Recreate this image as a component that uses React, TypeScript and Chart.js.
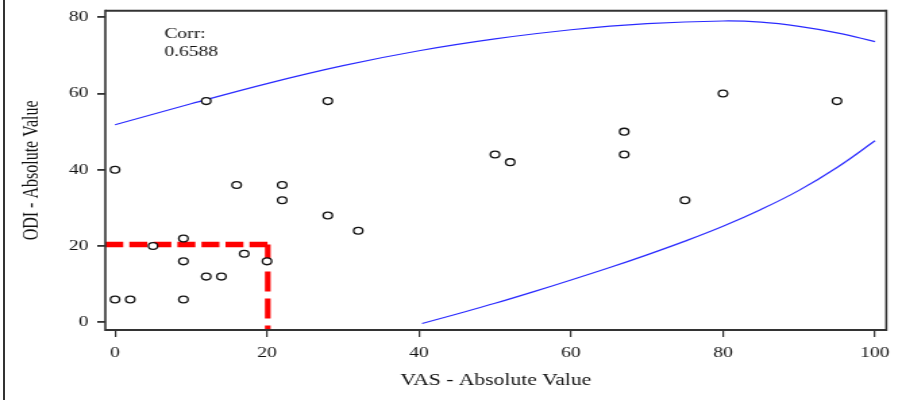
import React, { useEffect, useRef } from "react";
import { Chart, registerables } from "chart.js";

Chart.register(...registerables);

// ---- data ----
const vas = [0, 0, 2, 5, 9, 9, 9, 12, 12, 14, 16, 17, 20, 22, 22, 28, 28, 32, 50, 52, 67, 67, 75, 80, 95];
const odi = [40, 6, 6, 20, 22, 16, 6, 58, 12, 12, 36, 18, 16, 36, 32, 58, 28, 24, 44, 42, 50, 44, 32, 60, 58];

const upperX = [0, 10, 20, 30, 40, 50, 60, 70, 80, 85, 90, 95, 100];
const upperY = [51.8, 57.3, 62.6, 67.3, 71.2, 74.3, 76.7, 78.3, 79.0, 78.7, 77.6, 75.9, 73.6];

const lowerX = [40.4, 45, 50, 55, 60, 65, 70, 75, 80, 85, 90, 95, 100];
const lowerY = [-0.3, 2.2, 5.0, 8.0, 11.1, 14.3, 17.7, 21.3, 25.2, 29.6, 34.6, 40.6, 47.6];

const vasCut = 20.1;
const odiCut = 20.4;

const xTicks = [0, 20, 40, 60, 80, 100];
const yTicks = [0, 20, 40, 60, 80];
const xRange = [-1.28, 101.49];
const yRange = [-2.0, 81.7];

const corrLabel = "Corr:";
const corrValue = "0.6588";
const xTitle = "VAS - Absolute Value";
const yTitle = "ODI - Absolute Value";

// ---- layout ----
const OUT_W = 902;
const OUT_H = 400;
const CW = 668; // logical canvas width; stretched horizontally to 902
const SX = OUT_W / CW;
const FONT = '"Liberation Serif", "Times New Roman", serif';
const INK = "#111";
const FRAME = "#333";

export default function App() {
  const ref = useRef<HTMLCanvasElement | null>(null);

  useEffect(() => {
    const canvas = ref.current;
    if (!canvas) return;

    const framePlugin = {
      id: "framePlugin",
      afterDraw(chart: any) {
        const { ctx, chartArea } = chart;
        const { left, right, top, bottom } = chartArea;
        ctx.save();
        ctx.strokeStyle = FRAME;
        ctx.lineWidth = 2;
        ctx.beginPath();
        ctx.moveTo(left, top);
        ctx.lineTo(right, top);
        ctx.moveTo(left, bottom);
        ctx.lineTo(right, bottom);
        ctx.stroke();
        ctx.lineWidth = 1.6;
        ctx.beginPath();
        ctx.moveTo(left, top - 1);
        ctx.lineTo(left, bottom + 1);
        ctx.moveTo(right, top - 1);
        ctx.lineTo(right, bottom + 1);
        ctx.stroke();
        ctx.fillStyle = INK;
        ctx.font = `14.5px ${FONT}`;
        ctx.textAlign = "left";
        ctx.textBaseline = "alphabetic";
        ctx.fillText(corrLabel, left + 43.7, top + 27.6);
        ctx.fillText(corrValue, left + 43.7, top + 45.3);
        ctx.restore();
      },
    };

    const chart = new Chart(canvas, {
      type: "scatter",
      data: {
        datasets: [
          {
            type: "scatter",
            data: vas.map((x, i) => ({ x, y: odi[i] })),
            pointRadius: 3.4,
            pointBorderWidth: 1.3,
            borderColor: INK,
            backgroundColor: "#ffffff",
            pointHoverRadius: 3.4,
          },
          {
            type: "line",
            data: upperX.map((x, i) => ({ x, y: upperY[i] })),
            borderColor: "#2b2bff",
            borderWidth: 1.2,
            pointRadius: 0,
            fill: false,
            tension: 0.4,
          },
          {
            type: "line",
            data: lowerX.map((x, i) => ({ x, y: lowerY[i] })),
            borderColor: "#2b2bff",
            borderWidth: 1.2,
            pointRadius: 0,
            fill: false,
            tension: 0.4,
          },
          {
            type: "line",
            data: [
              { x: xRange[0], y: odiCut },
              { x: vasCut, y: odiCut },
            ],
            borderColor: "#ff0000",
            borderWidth: 5.5,
            borderDash: [13.3, 4.5],
            pointRadius: 0,
            fill: false,
          },
          {
            type: "line",
            data: [
              { x: vasCut, y: odiCut },
              { x: vasCut, y: yRange[0] },
            ],
            borderColor: "#ff0000",
            borderWidth: 4.2,
            borderDash: [20, 7],
            pointRadius: 0,
            fill: false,
          },
        ],
      },
      options: {
        animation: false,
        responsive: false,
        devicePixelRatio: 1,
        events: [],
        layout: {
          padding: { top: 10.7, right: CW - 886.3 / SX, left: 0, bottom: 0 },
        },
        plugins: {
          legend: { display: false },
          tooltip: { enabled: false },
          title: { display: false },
        },
        scales: {
          x: {
            type: "linear",
            min: xRange[0],
            max: xRange[1],
            afterBuildTicks: (s: any) => {
              s.ticks = xTicks.map((v) => ({ value: v }));
            },
            afterFit: (s: any) => {
              s.height = 70;
              s.paddingLeft = 0;
              s.paddingRight = 0;
              s.paddingTop = 0;
              s.paddingBottom = 0;
            },
            grid: {
              display: true,
              drawOnChartArea: false,
              drawTicks: true,
              tickLength: 7,
              color: FRAME,
              lineWidth: 1.2,
            },
            border: { display: false },
            ticks: {
              font: { family: FONT, size: 14.5 },
              color: INK,
              padding: 7,
              maxRotation: 0,
              callback: (v: any) => String(v),
            },
            title: {
              display: true,
              text: xTitle,
              font: { family: FONT, size: 16 },
              color: INK,
              padding: { top: 0, bottom: 9.4 },
            },
          },
          y: {
            type: "linear",
            min: yRange[0],
            max: yRange[1],
            afterBuildTicks: (s: any) => {
              s.ticks = yTicks.map((v) => ({ value: v }));
            },
            afterFit: (s: any) => {
              s.width = 105.3 / SX;
              s.paddingLeft = 0;
              s.paddingRight = 0;
              s.paddingTop = 0;
              s.paddingBottom = 0;
            },
            grid: {
              display: true,
              drawOnChartArea: false,
              drawTicks: true,
              tickLength: 6,
              color: FRAME,
              lineWidth: 1.8,
            },
            border: { display: false },
            ticks: {
              font: { family: FONT, size: 14.5 },
              color: INK,
              padding: 6.5,
              callback: (v: any) => String(v),
            },
            title: {
              display: true,
              text: yTitle,
              font: { family: FONT, size: 16 },
              color: INK,
              padding: { top: 14.4, bottom: 0 },
            },
          },
        },
      },
      plugins: [framePlugin],
    } as any);

    return () => {
      chart.destroy();
    };
  }, []);

  return (
    <div
      style={{
        position: "fixed",
        left: 0,
        top: 0,
        width: OUT_W,
        height: OUT_H,
        background: "#ffffff",
        overflow: "hidden",
      }}
    >
      <canvas
        ref={ref}
        width={CW}
        height={OUT_H}
        style={{ width: `${OUT_W}px`, height: `${OUT_H}px`, display: "block" }}
      />
      <div
        style={{
          position: "absolute",
          left: 3,
          top: 0,
          width: 2,
          height: OUT_H,
          background: FRAME,
        }}
      />
    </div>
  );
}
